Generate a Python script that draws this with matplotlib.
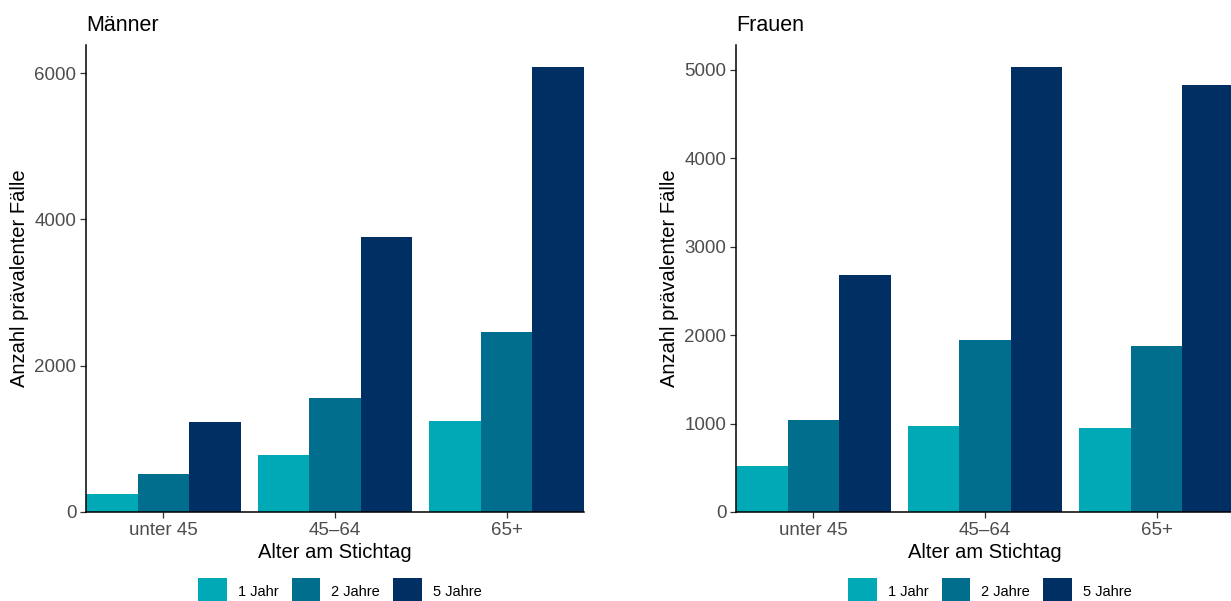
import numpy as np
from matplotlib import pyplot as plt
from matplotlib.patches import Patch

plt.rcParams['font.family'] = ['Liberation Sans', 'DejaVu Sans']

# Data.
age_groups = ['unter 45', '45\u201364', '65+']
series = ['1 Jahr', '2 Jahre', '5 Jahre']
colors = ['#00A9B5', '#006E8C', '#003063']

men = {
    '1 Jahr': [245, 780, 1245],
    '2 Jahre': [520, 1560, 2460],
    '5 Jahre': [1230, 3760, 6080],
}
women = {
    '1 Jahr': [520, 975, 950],
    '2 Jahre': [1045, 1945, 1880],
    '5 Jahre': [2680, 5030, 4830],
}

W, H = 1231, 601
fig = plt.figure(figsize=(W / 100, H / 100), dpi=100)


def px_axes(left, right, top, bottom):
    return fig.add_axes([left / W, 1 - bottom / H, (right - left) / W, (bottom - top) / H])


def draw_panel(ax, data, title, yticks):
    x = np.arange(1, len(age_groups) + 1)
    width = 0.3
    for i, s in enumerate(series):
        ax.bar(x + (i - 1) * width, data[s], width=width, color=colors[i], linewidth=0)
    ymax = max(max(v) for v in data.values())
    ax.set_xlim(0.55, 3.45)
    ax.set_ylim(0, ymax * 1.05)
    ax.set_xticks(x)
    ax.set_xticklabels(age_groups)
    ax.set_yticks(yticks)
    for side in ['top', 'right']:
        ax.spines[side].set_visible(False)
    for side in ['left', 'bottom']:
        ax.spines[side].set_linewidth(1.1)
        ax.spines[side].set_color('black')
    ax.tick_params(axis='both', length=4, width=0.9, color='#333333',
                   labelcolor='#4D4D4D', labelsize=13.5, pad=3)
    ax.set_xlabel('Alter am Stichtag', fontsize=14.5, labelpad=3)
    ax.set_ylabel('Anzahl prävalenter Fälle', fontsize=14.5, labelpad=4)
    ax.set_title(title, loc='left', fontsize=15.5, pad=10)
    handles = [Patch(facecolor=c, edgecolor='none') for c in colors]
    ax.legend(handles, series, loc='upper center', ncol=3, frameon=False,
              bbox_to_anchor=(0.51, -0.141), fontsize=10.5, handlelength=1.97,
              handleheight=2.5, handletextpad=0.75, columnspacing=0.9,
              borderpad=0, borderaxespad=0)


ax1 = px_axes(86, 584, 45, 512)
draw_panel(ax1, men, 'Männer', [0, 2000, 4000, 6000])

ax2 = px_axes(736, 1234, 45, 512)
draw_panel(ax2, women, 'Frauen', [0, 1000, 2000, 3000, 4000, 5000])

fig.savefig('out.png', dpi=100)
